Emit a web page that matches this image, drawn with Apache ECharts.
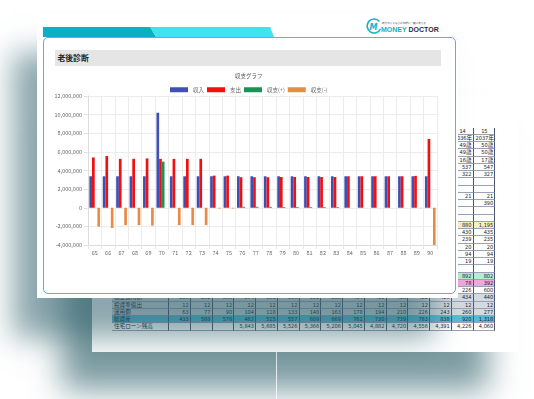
<!DOCTYPE html>
<html>
<head>
<meta charset="utf-8">
<script src="https://cdn.jsdelivr.net/npm/echarts@6/dist/echarts.min.js"></script>
<style>
  html, body { margin: 0; padding: 0; }
  body { width: 534px; height: 399px; overflow: hidden; background: #fff; position: relative;
         font-family: "Noto Sans CJK JP", sans-serif; }
  .abs { position: absolute; }
  #paper { left: 92px; top: 95px; width: 426px; height: 257px; background: #fff;
           box-shadow: -30px 38px 30px 0 rgba(45,95,105,0.62); z-index: 1; }
  #glare { left: 276px; top: 352px; width: 1px; height: 47px; background: rgba(255,255,255,0.8); z-index: 1; }
  .cell { position: absolute; box-sizing: border-box; border-right: 1px solid #4a5570; border-bottom: 1px solid #9aa3b5;
          font-family: "Liberation Sans Narrow", "DejaVu Sans Condensed", "Noto Sans CJK JP", sans-serif;
          font-size: 5.6px; line-height: 7px; text-align: right; padding-right: 1px; color: #1a2233; white-space: nowrap; overflow: hidden; }
  #card { left: 37px; top: 13px; width: 421px; height: 285px; background: #fff;
          box-shadow: -24px 40px 28px 0 rgba(45,95,105,0.55); z-index: 2; }
  #tab1 { left: 43px; top: 26.5px; width: 113px; height: 10.5px; background: #08afc6; z-index: 3;
          clip-path: polygon(0 0, 107px 0, 113px 100%, 0 100%); }
  #tab2 { left: 150px; top: 26.5px; width: 124px; height: 10.5px; background: #3fe2f3; z-index: 3;
          clip-path: polygon(0 0, 120px 0, 124px 100%, 6px 100%); }
  #frame { left: 43px; top: 37px; width: 413px; height: 257px; box-sizing: border-box;
           border: 1px solid #3cc3d0; border-radius: 5px; z-index: 3; }
  #head { left: 54.5px; top: 50px; width: 386.5px; height: 15.5px; background: #e5e5e5; z-index: 3;
          font-size: 7.8px; font-weight: bold; line-height: 15.5px; padding-left: 3px; box-sizing: border-box; color: #222; }
  #logo { left: 366px; top: 16px; width: 78px; height: 18px; z-index: 3; }
  #chart { left: 44px; top: 66px; width: 411px; height: 226px; z-index: 4; }
</style>
</head>
<body>
<div id="paper" class="abs"></div>
<div id="glare" class="abs"></div>
<div id="card" class="abs"></div>
<div id="tab1" class="abs"></div>
<div id="tab2" class="abs"></div>
<div id="frame" class="abs"></div>
<div id="head" class="abs">老後診断</div>
<div id="logo" class="abs">
  <svg width="78" height="18" viewBox="0 0 78 18">
    <path d="M13.5 4.5 A7 7 0 1 0 14.5 12" fill="none" stroke="#12b3c4" stroke-width="1.6"/>
    <text x="3.5" y="12.5" font-size="8" font-style="italic" font-weight="bold" fill="#12b3c4" font-family="DejaVu Sans">M</text>
    <text x="16" y="6.5" font-size="2.6" fill="#556" font-family="Noto Sans CJK JP">家計のことならお気軽に一緒に考える</text>
    <text x="15" y="15" font-size="7" font-weight="bold" fill="#12b3c4" font-family="Liberation Sans">MONEY<tspan fill="#1f2d4a"> DOCTOR</tspan></text>
  </svg>
</div>
<div id="chart" class="abs"></div>
<script>
// chart data (yen)
const ages = ['65','66','67','68','69','70','71','72','73','74','75','76','77','78','79','80','81','82','83','84','85','86','87','88','89','90'];
const income = [3380000,3380000,3380000,3380000,3380000,10200000,3380000,3380000,3380000,3380000,3380000,3380000,3380000,
                3380000,3380000,3380000,3380000,3380000,3380000,3380000,3380000,3380000,3380000,3380000,3380000,3380000];
const expense = [5400000,5550000,5250000,5250000,5300000,5250000,5250000,5250000,5250000,3450000,3450000,3280000,3280000,
                 3280000,3300000,3300000,3300000,3300000,3300000,3380000,3380000,3380000,3380000,3380000,3420000,7380000];
const surplus = [null,null,null,null,null,4950000,null,null,null,null,null,100000,100000,
                 100000,80000,80000,80000,80000,80000,null,null,null,null,null,null,null];
const deficit = [-2020000,-2170000,-1870000,-1870000,-1920000,null,-1870000,-1870000,-1870000,-70000,-70000,null,null,
                 null,null,null,null,null,null,null,null,null,null,null,-40000,-4000000];
const seriesNames = ['収入','支出','収支(+)','収支(-)'];
const yMin = -4000000, yMax = 12000000, yStep = 2000000;

// spreadsheet behind the card (only the visible parts are filled)
const sheetCols = 15;
const rightCols = [['14','15'],['2036年','2037年'],['49歳','50歳'],['49歳','50歳'],['16歳','17歳'],['537','547'],['322','327'],
                   ['',''],['',''],['21','21'],['','390'],['',''],['',''],['880','1,195'],['430','435'],['239','235'],
                   ['20','20'],['94','94'],['19','19'],['',''],['892','802'],['78','392'],['226','600']];
const rightFill = {13:'#f6efc4', 20:'#b6ecd2', 21:'#f1a6dc'};
const bottomLabels = ['積立運用額','投資準備出','運用額','総資産','住宅ローン残高'];
const bottomRows = [
  ['356','362','368','374','380','386','392','398','404','410','416','422','428','434','440'],
  ['12','12','12','12','12','12','12','12','12','12','12','12','12','12','12'],
  ['63','77','90','104','118','133','148','163','178','194','210','226','243','260','277'],
  ['433','588','578','462','515','557','609','669','761','730','739','783','838','920','1,318'],
  ['','','','5,843','5,685','5,526','5,366','5,206','5,045','4,882','4,720','4,556','4,391','4,226','4,060']];
const bottomFill = ['#d3dbe1','#d3dbe1','#d3dbe1','#55bcd9','#ffffff'];

// build sheet
const sx = 112, sy = 127.5, rowH = 7.25, labW = 57, colW = 21.75;
function cell(x, y, w, text, bg, align) {
  const d = document.createElement('div');
  d.className = 'cell';
  d.style.left = x + 'px'; d.style.top = y + 'px';
  d.style.width = w + 'px'; d.style.height = rowH + 'px';
  if (bg) d.style.background = bg;
  if (align) { d.style.textAlign = align; d.style.paddingLeft = '2px'; }
  d.textContent = text;
  d.style.zIndex = 1;
  document.body.appendChild(d);
}
rightCols.forEach((r, i) => {
  const y = sy + i * rowH;
  const align = i < 2 ? 'center' : null;
  cell(sx + labW + 13 * colW, y, colW, r[0], rightFill[i], align);
  cell(sx + labW + 14 * colW, y, colW, r[1], rightFill[i], align);
});
bottomRows.forEach((r, k) => {
  const y = sy + (rightCols.length + k) * rowH;
  cell(sx, y, labW, bottomLabels[k], bottomFill[k], 'left');
  for (let c = 0; c < sheetCols; c++) cell(sx + labW + c * colW, y, colW, r[c], bottomFill[k]);
});

// chart
const chart = echarts.init(document.getElementById('chart'));
const colors = ['#3f4fb3', '#f20f0f', '#1b9256', '#e88b45'];
const txt = { fontSize: 5.5, color: '#666', fontFamily: 'Noto Sans CJK JP' };
const option = {
  animation: false,
  color: colors,
  title: {
    text: '収支グラフ', left: 186, top: 2,
    textStyle: { fontSize: 5.5, color: '#555', fontWeight: 'normal', fontFamily: 'Noto Sans CJK JP' }
  },
  legend: {
    left: 121, top: 16, itemWidth: 18, itemHeight: 5, itemGap: 3, icon: 'rect',
    textStyle: txt, data: seriesNames
  },
  grid: { left: 44, right: 18, top: 30, bottom: 47 },
  xAxis: {
    type: 'category', data: ages,
    axisLine: { onZero: false, lineStyle: { color: '#dcdcdc' } },
    axisTick: { show: true, length: 4, lineStyle: { color: '#e4e4e4' } },
    axisLabel: Object.assign({ margin: 5, interval: 0 }, txt),
    splitLine: { show: true, interval: 0, lineStyle: { color: '#ececec' } }
  },
  yAxis: {
    type: 'value', min: yMin, max: yMax, interval: yStep,
    axisLine: { show: true, lineStyle: { color: '#dcdcdc' } },
    axisTick: { show: true, length: 4, lineStyle: { color: '#e4e4e4' } },
    axisLabel: Object.assign({ margin: 6, formatter: v => v.toLocaleString('en-US') }, txt),
    splitLine: { lineStyle: { color: '#ececec' } }
  },
  series: [
    { name: seriesNames[0], type: 'bar', data: income, barGap: '0%', barCategoryGap: '20%' },
    { name: seriesNames[1], type: 'bar', data: expense },
    { name: seriesNames[2], type: 'bar', data: surplus },
    { name: seriesNames[3], type: 'bar', data: deficit }
  ]
};
chart.setOption(option);
</script>
</body>
</html>
